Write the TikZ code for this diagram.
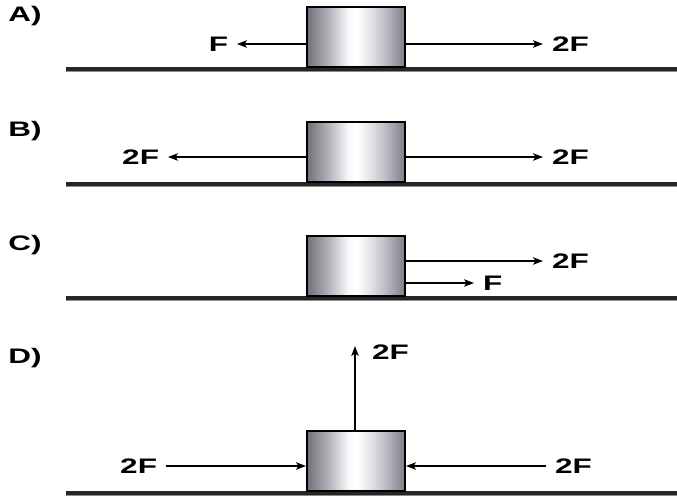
\documentclass[tikz,border=0pt]{standalone}
\usepackage{fontspec}
\setmainfont{Liberation Sans}
\usetikzlibrary{arrows.meta}
\pgfdeclarehorizontalshading{blockshade}{100bp}{rgb(0bp)=(0.44,0.44,0.48); rgb(25bp)=(0.44,0.44,0.48); rgb(36bp)=(0.70,0.70,0.73); rgb(46bp)=(0.97,0.97,0.98); rgb(50bp)=(1,1,1); rgb(54bp)=(0.95,0.95,0.96); rgb(64bp)=(0.76,0.76,0.79); rgb(75bp)=(0.49,0.49,0.53); rgb(100bp)=(0.49,0.49,0.53)}
\newcommand\widetext[1]{\scalebox{1.5}[1]{#1}}
\tikzset{
  blk/.style={draw=black, line width=2pt, shade, shading=blockshade, minimum width=98pt, minimum height=60pt, inner sep=0pt},
  lab/.style={font=\fontsize{21}{21}\selectfont\bfseries, inner sep=0pt, outer xsep=9pt, outer ysep=0pt},
  panel/.style={font=\fontsize{21}{21}\selectfont\bfseries, inner sep=0pt},
  arr/.style={line width=1.3pt, -{Stealth[length=10pt,width=7.5pt,inset=2.5pt]}},
  ground/.style={line width=4pt, black!85},
  groundshadow/.style={line width=1pt, black!45}
}
\begin{document}
\begin{tikzpicture}[x=1pt,y=-1pt]
\useasboundingbox (0,0) rectangle (677,501);
% ---- A ----
\draw[ground] (66,69) -- (677,69);
\draw[groundshadow] (66,71.5) -- (677,71.5);
\node[blk] (bA) at (356,37) {};
\node[panel] (pA) at (25,16) {\widetext{A)}};
\node[lab, anchor=east] (fAl) at (237,44) {\widetext{F}};
\node[lab, anchor=west] (fAr) at (543,44) {\widetext{2F}};
\draw[arr] (bA.west |- fAl) -- (fAl);
\draw[arr] (bA.east |- fAr) -- (fAr);
% ---- B ----
\draw[ground] (66,184) -- (677,184);
\draw[groundshadow] (66,186.5) -- (677,186.5);
\node[blk] (bB) at (356,151.5) {};
\node[panel] (pB) at (25,131) {\widetext{B)}};
\node[lab, anchor=east] (fBl) at (168,157) {\widetext{2F}};
\node[lab, anchor=west] (fBr) at (543,157) {\widetext{2F}};
\draw[arr] (bB.west |- fBl) -- (fBl);
\draw[arr] (bB.east |- fBr) -- (fBr);
% ---- C ----
\draw[ground] (66,298) -- (677,298);
\draw[groundshadow] (66,300.5) -- (677,300.5);
\node[blk] (bC) at (356,266) {};
\node[panel] (pC) at (25,245) {\widetext{C)}};
\node[lab, anchor=west] (fCu) at (543,261) {\widetext{2F}};
\node[lab, anchor=west] (fCd) at (474,283) {\widetext{F}};
\draw[arr] (bC.east |- fCu) -- (fCu);
\draw[arr] (bC.east |- fCd) -- (fCd);
% ---- D ----
\draw[ground] (66,492.5) -- (677,492.5);
\draw[groundshadow] (66,495) -- (677,495);
\node[blk] (bD) at (356,460.5) {};
\node[panel] (pD) at (25,358) {\widetext{D)}};
\coordinate (upD) at (355,346);
\node[lab, anchor=west, outer xsep=0pt] (fDu) at (372,352) {\widetext{2F}};
\draw[arr] (upD |- bD.north) -- (upD);
\node[lab, anchor=east] (fDl) at (166,466) {\widetext{2F}};
\node[lab, anchor=west] (fDr) at (546,466) {\widetext{2F}};
\draw[arr] (fDl) -- (bD.west |- fDl);
\draw[arr] (fDr) -- (bD.east |- fDr);
\end{tikzpicture}
\end{document}
